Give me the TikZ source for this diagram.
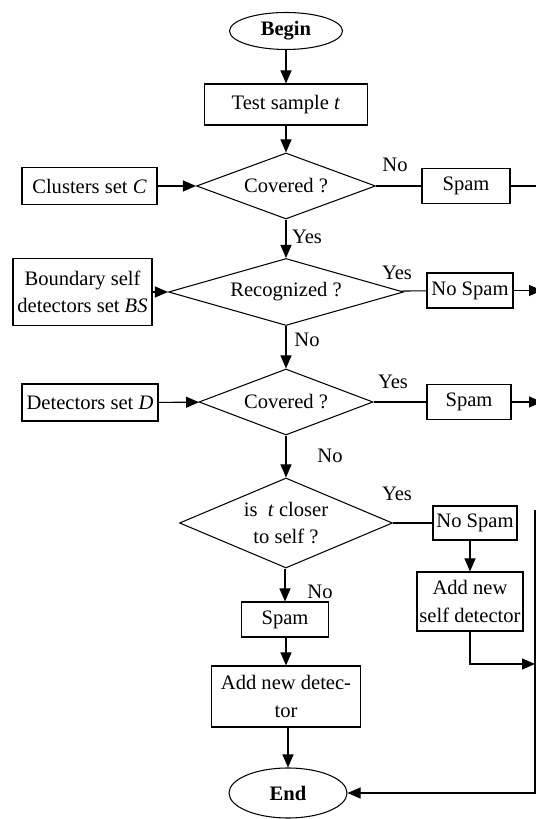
\documentclass[tikz,border=0pt]{standalone}
\usepackage{fontspec}
\setmainfont{Liberation Serif}
\usetikzlibrary{shapes.geometric,arrows.meta}

\begin{document}
\begin{tikzpicture}[
        font=\fontsize{11.7}{15.5}\selectfont,
        line width=0.6pt,
        >={Triangle[length=0.26cm,width=0.22cm]},
        term/.style={ellipse,draw,inner sep=0pt,font=\fontsize{11.7}{15.5}\selectfont\bfseries},
        box/.style={rectangle,draw,inner sep=0pt,align=center},
        decide/.style={diamond,draw,inner sep=0pt,aspect=3,align=center},
        lbl/.style={inner sep=0pt}
    ]
        \useasboundingbox (0,0) rectangle (10.72,16.38);

        % 主流程
        \node[term,minimum width=2.26cm,minimum height=0.74cm] (begin) at (5.72,15.76) {Begin};
        \node[box,minimum width=3.26cm,minimum height=0.82cm] (test) at (5.72,14.29) {Test sample \textit{t}};
        \node[decide,minimum width=3.58cm,minimum height=1.32cm] (cov1) at (5.72,12.66) {Covered ?};
        \node[decide,minimum width=4.70cm,minimum height=1.34cm] (recog) at (5.72,10.54) {Recognized ?};
        \node[decide,minimum width=3.48cm,minimum height=1.32cm] (cov2) at (5.72,8.34) {Covered ?};
        \node[decide,aspect=2.4,minimum width=4.26cm,minimum height=1.80cm] (closer) at (5.72,5.92) {is~~\textit{t} closer\\to self ?};
        \node[box,minimum width=1.74cm,minimum height=0.70cm] (spam3) at (5.70,3.99) {Spam};
        \node[box,minimum width=2.98cm,minimum height=1.22cm] (adddet) at (5.72,2.45) {Add new detec-\\tor};
        \node[term,minimum width=2.36cm,minimum height=1.00cm] (end) at (5.76,0.52) {End};

        % 左侧输入
        \node[box,minimum width=2.70cm,minimum height=0.74cm] (clusters) at (1.79,12.66) {Clusters set \textit{C}};
        \node[box,minimum width=2.78cm,minimum height=1.34cm] (boundary) at (1.65,10.54) {Boundary self\\detectors set \textit{BS}};
        \node[box,minimum width=2.72cm,minimum height=0.74cm] (detset) at (1.80,8.33) {Detectors set \textit{D}};

        % 右侧结果
        \node[box,minimum width=1.76cm,minimum height=0.70cm] (spam1) at (9.32,12.66) {Spam};
        \node[box,minimum width=1.72cm,minimum height=0.70cm] (nospam1) at (9.40,10.57) {No Spam};
        \node[box,minimum width=1.68cm,minimum height=0.70cm] (spam2) at (9.38,8.34) {Spam};
        \node[box,minimum width=1.68cm,minimum height=0.68cm] (nospam2) at (9.50,5.92) {No Spam};
        \node[box,minimum width=2.12cm,minimum height=1.18cm] (selfdet) at (9.40,4.35) {Add new\\self detector};

        \coordinate (rail) at (10.84,0);
        \coordinate (railtop) at (10.70,6.18);
        \coordinate (join) at (10.70,3.10);

        % 连线
        \draw[->] (begin) -- (test);
        \draw[->] (test) -- (cov1);
        \draw[->] (cov1) -- (recog);
        \draw[->] (recog) -- (cov2);
        \draw[->] (cov2) -- (closer);
        \draw[->] (closer.south -| spam3) -- (spam3);
        \draw[->] (spam3.south -| adddet) -- (adddet);
        \draw[->] (adddet.south -| end) -- (end);

        \draw[->] (clusters) -- (cov1);
        \draw[->] (boundary) -- (recog);
        \draw[->] (detset) -- (cov2);

        \draw (cov1) -- (spam1);
        \draw (recog) -- (nospam1);
        \draw (cov2) -- (spam2);
        \draw (closer) -- (nospam2);
        \draw (spam1) -- (spam1 -| rail);
        \draw[->] (nospam1) -- (nospam1 -| rail);
        \draw[->] (spam2) -- (spam2 -| rail);
        \draw[->] (selfdet.north |- nospam2.south) -- (selfdet);
        \draw[->] (selfdet) |- (join);
        \draw[->] (railtop) |- (end);

        % 标注
        \node[lbl] (no1) at (7.90,13.08) {No};
        \node[lbl] (yes1) at (6.14,11.64) {Yes};
        \node[lbl] (yes2) at (7.94,10.92) {Yes};
        \node[lbl] (no2) at (6.14,9.58) {No};
        \node[lbl] (yes3) at (7.86,8.74) {Yes};
        \node[lbl] (no3) at (6.60,7.26) {No};
        \node[lbl] (yes4) at (7.94,6.50) {Yes};
        \node[lbl] (no4) at (6.40,4.54) {No};
\end{tikzpicture}
\end{document}
